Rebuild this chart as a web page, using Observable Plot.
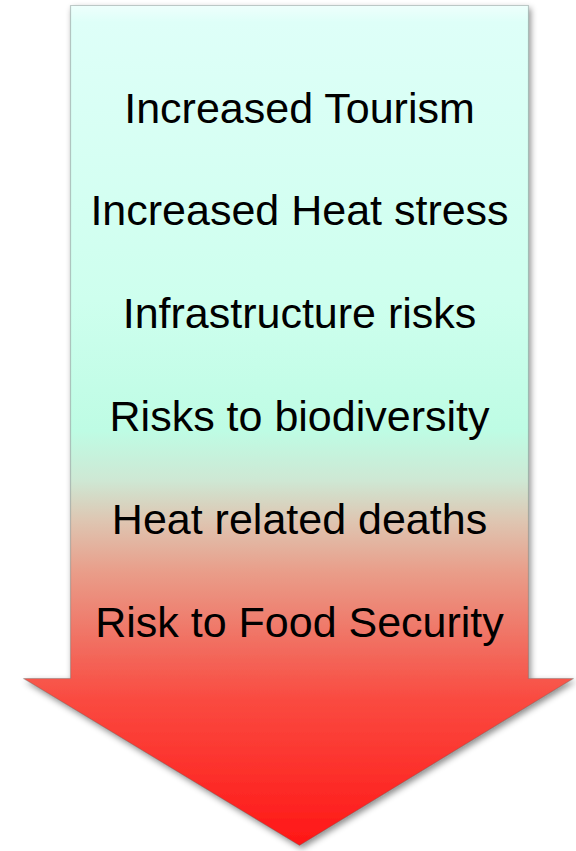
<!DOCTYPE html>
<html>
<head>
<meta charset="utf-8">
<script src="https://cdn.jsdelivr.net/npm/d3@7"></script>
<script src="https://cdn.jsdelivr.net/npm/@observablehq/plot@0.6"></script>
<style>
  html, body { margin: 0; padding: 0; background: #ffffff; }
  #chart svg { display: block; }
</style>
</head>
<body>
<div id="chart"></div>
<script>
// ---- data ----
const impacts = [
  "Increased Tourism",
  "Increased Heat stress",
  "Infrastructure risks",
  "Risks to biodiversity",
  "Heat related deaths",
  "Risk to Food Security"
];
const gradientOffsets = [0, 0.02, 0.35, 0.506, 0.565, 0.613, 0.673, 0.756, 0.827, 1];
const gradientColors = [
  "rgb(238,255,252)", "rgb(222,255,248)", "rgb(206,255,238)", "rgb(190,252,228)",
  "rgb(206,232,212)", "rgb(222,198,178)", "rgb(233,158,138)", "rgb(241,112,98)",
  "rgb(250,74,64)", "rgb(255,22,22)"
];

// ---- layout ----
const W = 576, H = 851;
const shaftLeft = 70, shaftRight = 528, arrowTop = 5, shaftBottom = 678;
const headLeft = 23, headRight = 573, tipY = 845, cx = (shaftLeft + shaftRight) / 2;
const arrowOutline = [
  [shaftLeft, arrowTop], [shaftRight, arrowTop], [shaftRight, shaftBottom], [headRight, shaftBottom],
  [cx, tipY], [headLeft, shaftBottom], [shaftLeft, shaftBottom], [shaftLeft, arrowTop]
].map(([x, y]) => ({x, y}));
const firstBaseline = 122, lineStep = 102.8;
const labels = impacts.map((text, i) => ({text, x: cx, y: firstBaseline + i * lineStep}));

const chart = Plot.plot({
  width: W,
  height: H,
  margin: 0,
  x: {domain: [0, W], range: [0, W], axis: null},
  y: {domain: [0, H], range: [0, H], axis: null},
  style: {background: "#ffffff"},
  marks: [
    Plot.line(arrowOutline, {
      x: "x", y: "y",
      fill: "url(#arrowGrad)",
      stroke: "rgba(90,110,105,0.35)",
      strokeWidth: 1.2,
      curve: "linear-closed"
    }),
    Plot.text(labels, {
      x: "x", y: "y", text: "text",
      textAnchor: "middle",
      lineAnchor: "bottom",
      fontSize: 43,
      fontFamily: "'Liberation Sans', Arial, Helvetica, sans-serif",
      fill: "#000000"
    })
  ]
});

// gradient + shadow definitions
const svg = d3.select(chart);
const defs = svg.insert("defs", ":first-child");
const grad = defs.append("linearGradient")
  .attr("id", "arrowGrad")
  .attr("gradientUnits", "userSpaceOnUse")
  .attr("x1", 0).attr("y1", arrowTop).attr("x2", 0).attr("y2", tipY);
gradientOffsets.forEach((o, i) => {
  grad.append("stop").attr("offset", o).attr("stop-color", gradientColors[i]);
});
const filt = defs.append("filter").attr("id", "arrowShadow")
  .attr("x", "-10%").attr("y", "-10%").attr("width", "120%").attr("height", "120%");
filt.append("feDropShadow")
  .attr("dx", 2).attr("dy", 3).attr("stdDeviation", 3)
  .attr("flood-color", "#000").attr("flood-opacity", 0.45);
svg.select("path").attr("filter", "url(#arrowShadow)");

document.getElementById("chart").appendChild(chart);
</script>
</body>
</html>
